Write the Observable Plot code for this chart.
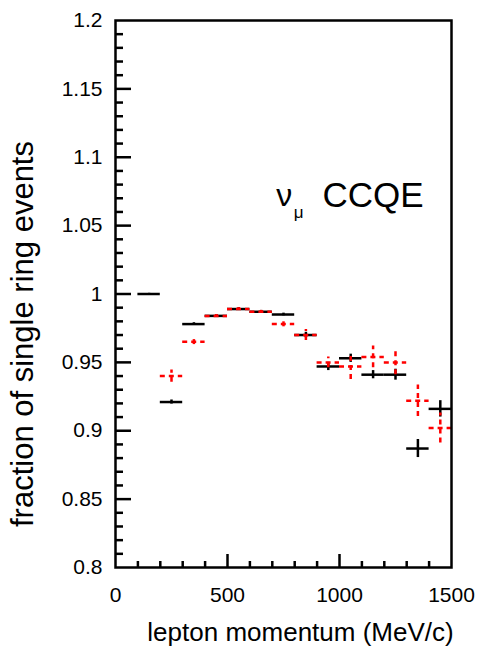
<!DOCTYPE html>
<html>
<head>
<meta charset="utf-8">
<script src="https://cdn.jsdelivr.net/npm/d3@7"></script>
<script src="https://cdn.jsdelivr.net/npm/@observablehq/plot@0.6"></script>
<style>
  html, body { margin: 0; padding: 0; background: #fff; }
</style>
</head>
<body>
<div id="chart"></div>
<script>
// Bin lower edges (MeV/c), bin width 100
const binLo = [100, 200, 300, 400, 500, 600, 700, 800, 900, 1000, 1100, 1200, 1300, 1400];
// Black (data) points
const blackVal = [1.000, 0.921, 0.978, 0.984, 0.989, 0.987, 0.985, 0.970, 0.947, 0.953, 0.941, 0.941, 0.887, 0.916];
const blackErr = [0.0005, 0.0015, 0.001, 0.001, 0.001, 0.001, 0.001, 0.002, 0.003, 0.003, 0.003, 0.004, 0.0066, 0.0060];
// Red (dashed, MC) points, starting at the 200-300 bin
const redLo  = [200, 300, 400, 500, 600, 700, 800, 900, 1000, 1100, 1200, 1300, 1400];
const redVal = [0.940, 0.965, 0.984, 0.989, 0.987, 0.978, 0.970, 0.950, 0.947, 0.954, 0.950, 0.922, 0.902];
const redErr = [0.0045, 0.002, 0.001, 0.001, 0.001, 0.002, 0.004, 0.004, 0.0095, 0.008, 0.009, 0.0115, 0.011];

// Axis ticks
const xTickLabels = [0, 500, 1000, 1500];
const xMinor = [100, 200, 300, 400, 600, 700, 800, 900, 1100, 1200, 1300, 1400];
const xMajorInner = [500, 1000];
const yTickLabels = [0.8, 0.85, 0.9, 0.95, 1, 1.05, 1.1, 1.15, 1.2];
const yMajorInner = [0.85, 0.9, 0.95, 1, 1.05, 1.1, 1.15];
const yMinor = d3.range(81, 120).filter(i => i % 5 !== 0).map(i => i / 100);

const binWidth = 100;
const black = binLo.map((lo, i) => ({lo, hi: lo + binWidth, mid: lo + binWidth / 2, v: blackVal[i], e: blackErr[i]}));
const red = redLo.map((lo, i) => ({lo, hi: lo + binWidth, mid: lo + binWidth / 2, v: redVal[i], e: redErr[i]}));

const W = 482, H = 646;
const mL = 115, mR = 31, mT = 20, mB = 79;
const innerW = W - mL - mR, innerH = H - mT - mB;
const font = "'Liberation Sans', Arial, Helvetica, sans-serif";
const lw = 2.5;

const chart = Plot.plot({
  width: W,
  height: H,
  marginLeft: mL,
  marginRight: mR,
  marginTop: mT,
  marginBottom: mB,
  style: {fontFamily: font, fontSize: "21px", color: "#000", background: "#fff"},
  x: {domain: [0, 1500], ticks: xTickLabels, tickSize: 0, tickPadding: 20, label: null, tickFormat: d => String(d)},
  y: {domain: [0.8, 1.2], ticks: yTickLabels, tickSize: 0, tickPadding: 13, label: null, tickFormat: d => String(+d.toFixed(2))},
  marks: [
    // inward y ticks (left side)
    Plot.tickY(yMajorInner, {y: d => d, insetRight: innerW - 16, stroke: "#000", strokeWidth: lw}),
    Plot.tickY(yMinor, {y: d => d, insetRight: innerW - 8, stroke: "#000", strokeWidth: lw}),
    // inward x ticks (bottom side)
    Plot.tickX(xMajorInner, {x: d => d, insetTop: innerH - 13, stroke: "#000", strokeWidth: lw}),
    Plot.tickX(xMinor, {x: d => d, insetTop: innerH - 6, stroke: "#000", strokeWidth: lw}),
    // black data
    Plot.ruleY(black, {y: "v", x1: "lo", x2: "hi", stroke: "#000", strokeWidth: lw}),
    Plot.ruleX(black, {x: "mid", y1: d => d.v - d.e, y2: d => d.v + d.e, stroke: "#000", strokeWidth: lw}),
    // red dashed
    Plot.ruleY(red, {y: "v", x1: "lo", x2: "hi", stroke: "#ff0000", strokeWidth: lw, strokeDasharray: "5,4"}),
    Plot.ruleX(red, {x: "mid", y1: d => d.v - d.e, y2: d => d.v + d.e, stroke: "#ff0000", strokeWidth: lw, strokeDasharray: "5,4"}),
    // annotation
    Plot.text(["ν"], {x: 718, y: 1.0647, textAnchor: "start", lineAnchor: "bottom", fontSize: 32, fill: "#000"}),
    Plot.text(["μ"], {x: 796, y: 1.0555, textAnchor: "start", lineAnchor: "bottom", fontSize: 17, fill: "#000"}),
    Plot.text(["CCQE"], {x: 924, y: 1.0633, textAnchor: "start", lineAnchor: "bottom", fontSize: 35, fill: "#000"}),
    // axis titles
    Plot.text(["fraction of single ring events"], {frameAnchor: "left", rotate: -90, dx: -92, dy: 40, fontSize: 31, fill: "#000", lineAnchor: "middle", textAnchor: "middle"}),
    Plot.text(["lepton momentum (MeV/c)"], {frameAnchor: "bottom", dx: 17, dy: 73, fontSize: 26, fill: "#000", lineAnchor: "bottom", textAnchor: "middle"}),
    Plot.frame({stroke: "#000", strokeWidth: lw})
  ]
});
document.getElementById("chart").appendChild(chart);
</script>
</body>
</html>
